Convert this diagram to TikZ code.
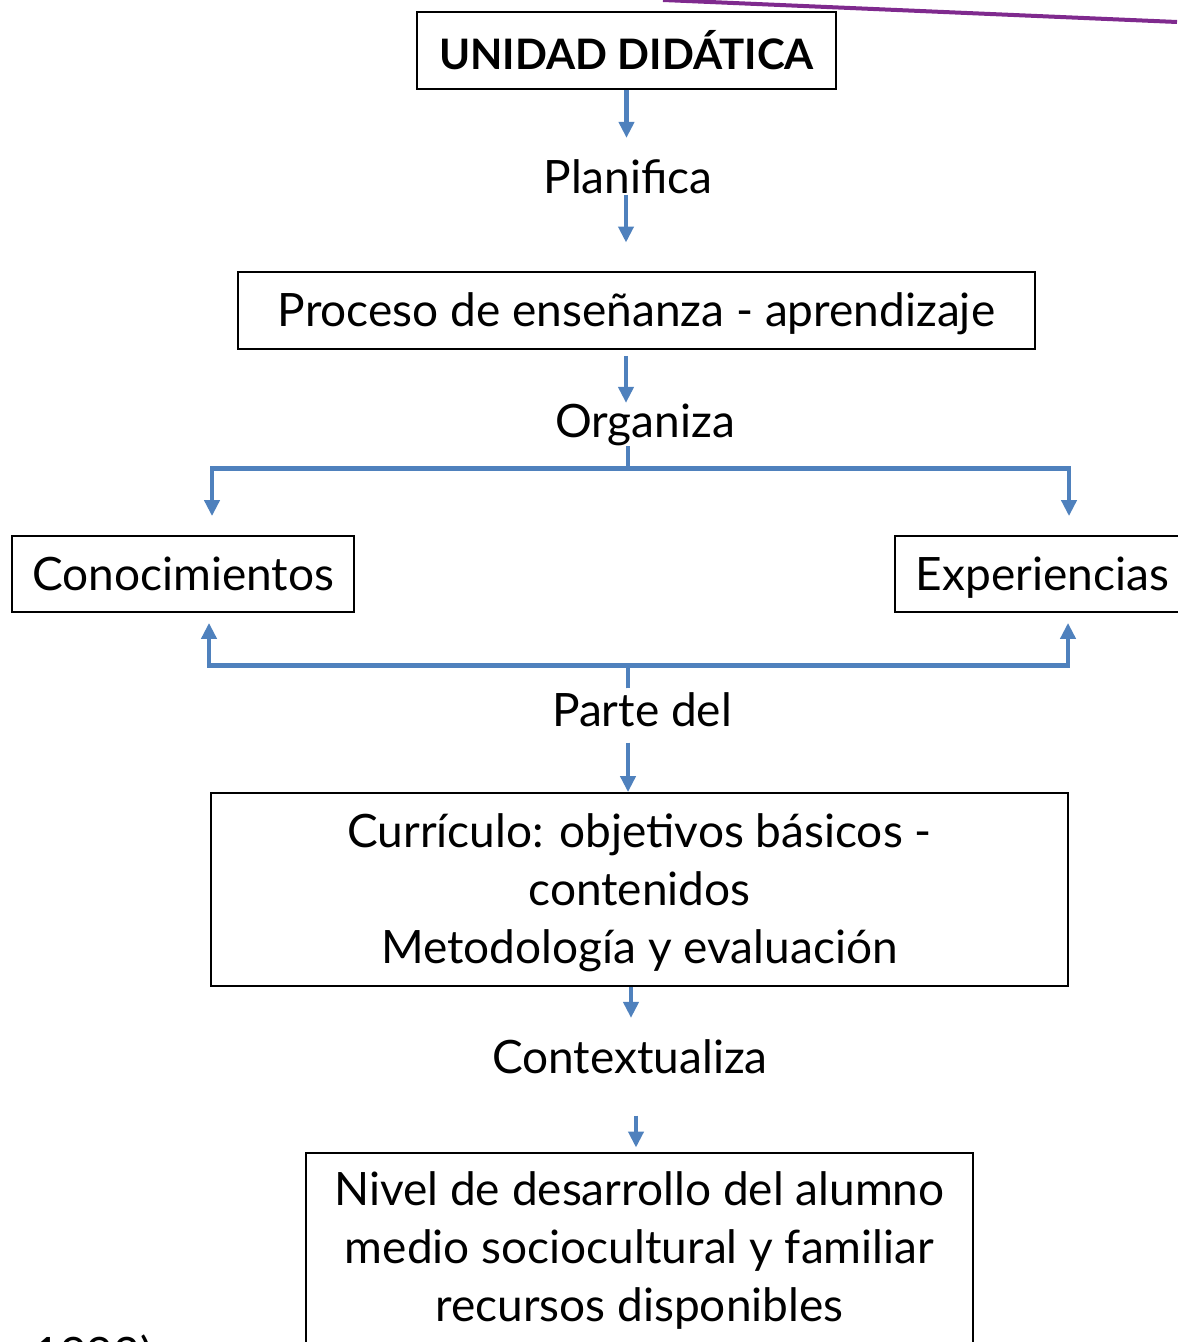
\documentclass[tikz,border=0pt]{standalone}
\usepackage{fontspec}
\setmainfont{Lato}
\usetikzlibrary{arrows.meta,positioning,calc}
\definecolor{arrowBlue}{HTML}{4F81BD}
\definecolor{linePurple}{HTML}{7F2A8E}
\newcommand{\lowerText}[2]{\raisebox{-#1}[\height][\depth]{#2}}
\tikzset{
  boxNode/.style = {draw=black, line width=0.9pt, inner sep=0pt, align=center,
    font=\fontsize{23}{29}\selectfont},% cajas del mapa
  labelNode/.style = {inner sep=0pt, font=\fontsize{23}{29}\selectfont},% verbos de enlace
  flowArrow/.style = {draw=arrowBlue, line width=2.3pt, -{Triangle[width=7.5pt,length=8pt]}},
}
\begin{document}
\begin{tikzpicture}[x=0.5pt,y=-0.5pt]
\useasboundingbox (0,0) rectangle (1177,1342);
\draw[linePurple, line width=2pt] (663,0) -- (1177,22);

\node [boxNode, minimum width=209.5pt, minimum height=38.5pt,
  font=\fontsize{21}{26}\bfseries] (unidad) at (626.5,50.5) {UNIDAD DIDÁTICA};
\node [labelNode] (planifica) at (628,177) {Planifica};
\node [boxNode, minimum width=398.5pt, minimum height=38.5pt] (proceso) at (636.5,310.5)
  {\lowerText{1.5pt}{Proceso de enseñanza - aprendizaje}};
\node [labelNode] (organiza) at (645,425) {Organiza};
\node [boxNode, minimum width=171pt, minimum height=38pt] (conoc) at (183,574) {Conocimientos};
\node [boxNode, minimum width=147.5pt, minimum height=38pt] (exper) at (1042.5,574)
  {\lowerText{2pt}{Experiencias}};
\node [labelNode] (parte) at (642,710) {Parte del};
\node [boxNode, minimum width=428.5pt, minimum height=96.5pt] (curric) at (639.5,889.5)
  {\lowerText{2pt}{\begin{tabular}{@{}c@{}}Currículo: objetivos básicos -\\ contenidos\\ Metodología y evaluación\end{tabular}}};
\node [labelNode] (context) at (630,1057) {Contextualiza};
\node [boxNode, minimum width=333.5pt, minimum height=97pt] (nivel) at (639.5,1250)
  {Nivel de desarrollo del alumno\\ medio sociocultural y familiar\\ recursos disponibles};
\node [labelNode, anchor=base west] (cita) at (33,1370) {1993)};

\draw[flowArrow] (unidad.south) -- ++(0,48);
\draw[flowArrow] ([xshift=-1pt]planifica.south) -- ++(0,48);
\draw[flowArrow] ([xshift=-5.25pt,yshift=-3pt]proceso.south) -- ++(0,47);
\draw[flowArrow] ([xshift=-8.5pt]organiza.south) -- ++(0,22) -| ([xshift=14.5pt,yshift=9.5pt]conoc.north);
\draw[flowArrow] ([xshift=-8.5pt]organiza.south) -- ++(0,22) -| ([xshift=13.25pt,yshift=9.5pt]exper.north);
\draw[flowArrow] ([xshift=-7pt,yshift=2pt]parte.north) -- ++(0,-23) -| ([xshift=13pt,yshift=-5pt]conoc.south);
\draw[flowArrow] ([xshift=-7pt,yshift=2pt]parte.north) -- ++(0,-23) -| ([xshift=12.75pt,yshift=-5pt]exper.south);
\draw[flowArrow] ([xshift=-7pt,yshift=-7.5pt]parte.south) -- ([xshift=-5.75pt]curric.north);
\draw[flowArrow] ([xshift=-4.25pt]curric.south) -- ++(0,31);
\draw[flowArrow] ([xshift=3pt,yshift=-20.5pt]context.south) -- ++(0,32);
\end{tikzpicture}
\end{document}
